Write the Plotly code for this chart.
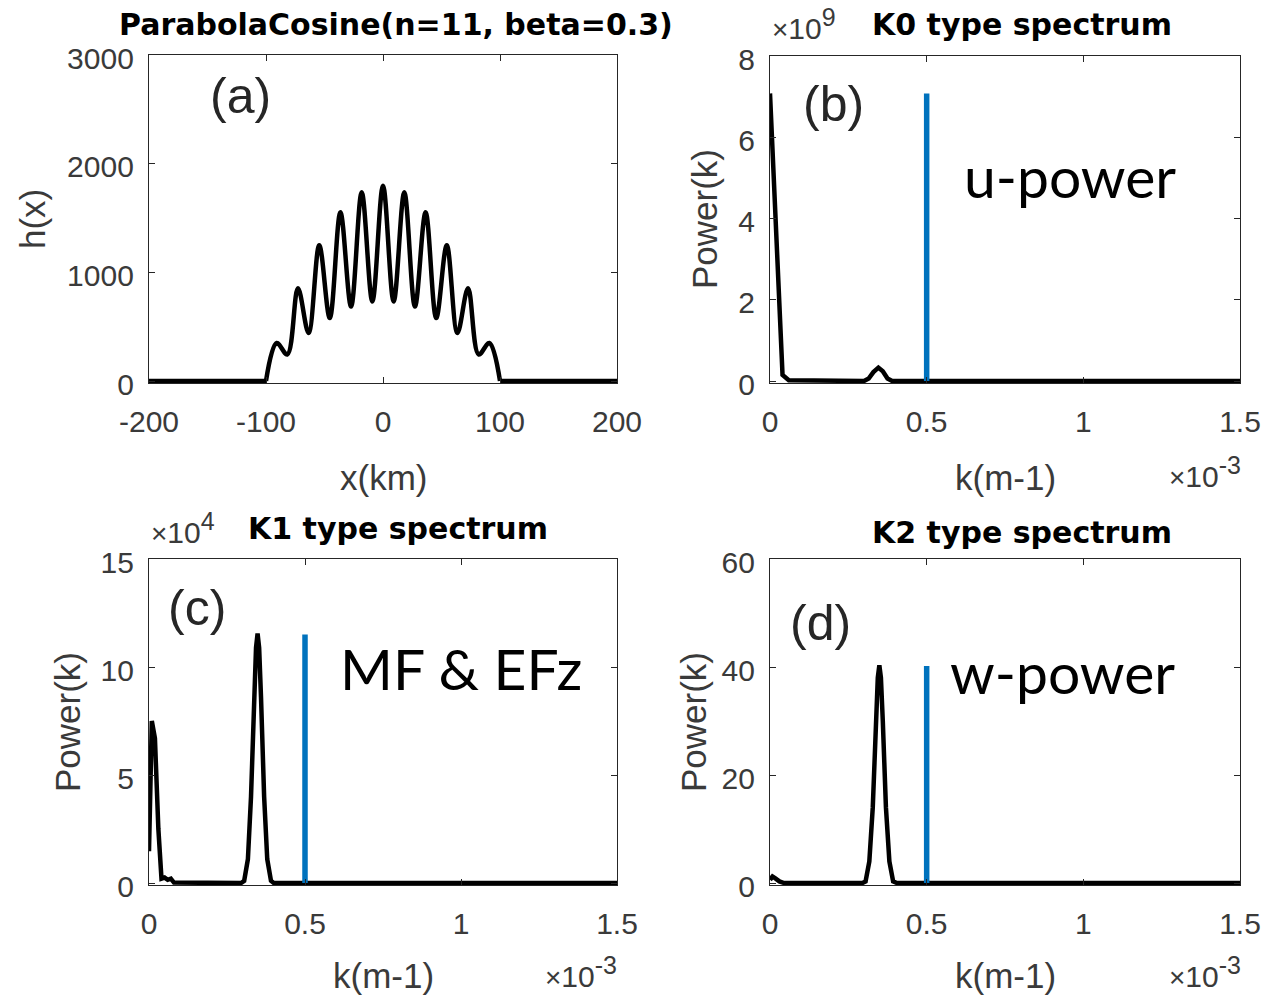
import plotly.graph_objects as go

W, H = 1268, 998

# ---------------- data ----------------
# (a) topography h(x): flat parts and the hump (peaks / troughs)
x_flat = [-200, -100, None, 100, 200]
h_flat = [0, 0, None, 0, 0]
x_km = [-100, -90.9, -81.8, -72.7, -63.6, -54.5, -45.5, -36.4, -27.3, -18.2, -9.1, 0,
        9.1, 18.2, 27.3, 36.4, 45.5, 54.5, 63.6, 72.7, 81.8, 90.9, 100]
h_x = [0, 350, 244, 853, 442, 1249, 579, 1553, 685, 1736, 731, 1797,
       731, 1736, 685, 1553, 579, 1249, 442, 853, 244, 350, 0]

# (b) K0 spectrum (k in 1e-3 m^-1, power in 1e9)
k0 = [0, 0.02, 0.04, 0.06, 0.30, 0.315, 0.33, 0.346, 0.36, 0.375, 0.39, 1.5]
p0 = [7.08, 3.4, 0.15, 0.02, 0.0, 0.06, 0.22, 0.33, 0.24, 0.06, 0.0, 0.0]

# (c) K1 spectrum (power in 1e4)
k1 = [0, 0.009, 0.019, 0.03, 0.04, 0.05, 0.06, 0.07, 0.08, 0.295, 0.305, 0.317, 0.327, 0.337,
      0.343, 0.348, 0.353, 0.359, 0.369, 0.379, 0.391, 0.40, 1.5]
p1 = [1.47, 7.5, 6.7, 2.5, 0.2, 0.25, 0.15, 0.2, 0.02, 0.0, 0.1, 1.1, 4.0, 8.6,
      10.9, 11.55, 10.9, 8.6, 4.0, 1.1, 0.1, 0.0, 0.0]

# (d) K2 spectrum
k2 = [0, 0.008, 0.016, 0.03, 0.045, 0.295, 0.305, 0.317, 0.328, 0.338, 0.344, 0.349, 0.354,
      0.360, 0.370, 0.381, 0.393, 0.405, 1.5]
p2 = [0.6, 1.2, 0.9, 0.3, 0.0, 0.0, 0.3, 4.0, 14.0, 30.0, 38.0, 40.3, 38.0,
      30.0, 14.0, 4.0, 0.3, 0.0, 0.0]

# blue reference lines at k = 0.5e-3
k_ref = 0.5
ref_b = 7.08
ref_c = 11.5
ref_d = 40.2

ticks_a_x = [-200, -100, 0, 100, 200]
ticks_a_x_txt = ["-200", "-100", "0", "100", "200"]
ticks_a_y = [0, 1000, 2000, 3000]
ticks_k = [0, 0.5, 1, 1.5]
ticks_k_txt = ["0", "0.5", "1", "1.5"]
ticks_b_y = [0, 2, 4, 6, 8]
ticks_c_y = [0, 5, 10, 15]
ticks_d_y = [0, 20, 40, 60]

titles = ["ParabolaCosine(n=11, beta=0.3)", "K0 type spectrum", "K1 type spectrum", "K2 type spectrum"]
panel_tags = ["(a)", "(b)", "(c)", "(d)"]
big_labels = ["u-power", "MF &amp; EFz", "w-power"]
exponents = ["9", "4", "-3"]

# ---------------- layout helpers ----------------
def fx(px):
    return px / W

def fy(py):
    return 1 - py / H

BLACK = "black"
BLUE = "#0072BD"
GRAY = "#3a3a3a"
TICKFONT = dict(family="Liberation Sans, Arial", size=30, color=GRAY)
LABFONT = dict(family="Liberation Sans, Arial", size=35, color=GRAY)
TITFONT = dict(family="DejaVu Sans", size=30, color="black", weight="bold")

fig = go.Figure()

LW = 4.5
BW = 5.5
fig.add_trace(go.Scatter(x=x_flat, y=h_flat, mode="lines", line=dict(color=BLACK, width=LW),
                         xaxis="x", yaxis="y", showlegend=False))
fig.add_trace(go.Scatter(x=x_km, y=h_x, mode="lines", line=dict(color=BLACK, width=LW, shape="spline", smoothing=1),
                         xaxis="x", yaxis="y", showlegend=False))

fig.add_trace(go.Scatter(x=k0, y=p0, mode="lines", line=dict(color=BLACK, width=LW), xaxis="x2", yaxis="y2", showlegend=False))
fig.add_trace(go.Scatter(x=[k_ref, k_ref], y=[0, ref_b], mode="lines", line=dict(color=BLUE, width=BW), xaxis="x2", yaxis="y2", showlegend=False))

fig.add_trace(go.Scatter(x=k1, y=p1, mode="lines", line=dict(color=BLACK, width=LW), xaxis="x3", yaxis="y3", showlegend=False))
fig.add_trace(go.Scatter(x=[k_ref, k_ref], y=[0, ref_c], mode="lines", line=dict(color=BLUE, width=BW), xaxis="x3", yaxis="y3", showlegend=False))

fig.add_trace(go.Scatter(x=k2, y=p2, mode="lines", line=dict(color=BLACK, width=LW), xaxis="x4", yaxis="y4", showlegend=False))
fig.add_trace(go.Scatter(x=[k_ref, k_ref], y=[0, ref_d], mode="lines", line=dict(color=BLUE, width=BW), xaxis="x4", yaxis="y4", showlegend=False))

panels = {
    "a": dict(x=(149, 617), y=(55, 383)),
    "b": dict(x=(770, 1240), y=(56, 383)),
    "c": dict(x=(149, 617), y=(559, 885)),
    "d": dict(x=(770, 1240), y=(559, 885)),
}

def axis_common():
    return dict(showline=True, linecolor="#262626", linewidth=1.3, mirror="ticks", ticks="inside",
                ticklen=6, tickwidth=1, tickcolor="#262626", showgrid=False, zeroline=False,
                tickfont=TICKFONT, fixedrange=True, automargin=False)

def yrange(top, py0, py1):
    eps = 2.0 / (py1 - py0) * top
    return [-eps, top]

layout = dict(width=W, height=H, margin=dict(l=0, r=0, t=0, b=0, autoexpand=False), paper_bgcolor="white",
              plot_bgcolor="white", showlegend=False)

specs = [
    ("a", "xaxis", "yaxis", "y", "x", [-200, 200], ticks_a_x, ticks_a_x_txt, 3000, ticks_a_y),
    ("b", "xaxis2", "yaxis2", "y2", "x2", [0, 1.5], ticks_k, ticks_k_txt, 8, ticks_b_y),
    ("c", "xaxis3", "yaxis3", "y3", "x3", [0, 1.5], ticks_k, ticks_k_txt, 15, ticks_c_y),
    ("d", "xaxis4", "yaxis4", "y4", "x4", [0, 1.5], ticks_k, ticks_k_txt, 60, ticks_d_y),
]
for key, xa, ya, yref, xref, xr, xt, xtt, ytop, yt in specs:
    p = panels[key]
    xd = [fx(p["x"][0]), fx(p["x"][1])]
    yd = [fy(p["y"][1]), fy(p["y"][0])]
    xax = axis_common()
    xax.update(domain=xd, anchor=yref, range=xr, tickvals=xt, ticktext=xtt, ticklabelstandoff=12)
    yax = axis_common()
    yax.update(domain=yd, anchor=xref, range=yrange(ytop, p["y"][0], p["y"][1]), tickvals=yt,
               ticklabelstandoff=8, ticklabelshift=3)
    layout[xa] = xax
    layout[ya] = yax

ann = []

def add_text(text, px, py, font, xanchor="center", yanchor="middle", angle=0):
    ann.append(dict(text=text, x=fx(px), y=fy(py), xref="paper", yref="paper", showarrow=False,
                    xanchor=xanchor, yanchor=yanchor, font=font, textangle=angle))

# titles
add_text(titles[0], 396, 25, TITFONT)
add_text(titles[1], 1022, 25, TITFONT)
add_text(titles[2], 398, 528, TITFONT)
add_text(titles[3], 1022, 532, TITFONT)

# panel tags
TAGFONT = dict(family="Liberation Sans, Arial", size=50, color="#262626")
add_text(panel_tags[0], 240, 96, TAGFONT)
add_text(panel_tags[1], 833, 104, TAGFONT)
add_text(panel_tags[2], 197, 608, TAGFONT)
add_text(panel_tags[3], 820, 623, TAGFONT)

# big labels
BIGFONT = dict(family="Lato", size=57, color="black")
add_text(big_labels[0], 962, 176, BIGFONT, xanchor="left")
add_text(big_labels[1], 338, 668, BIGFONT, xanchor="left")
add_text(big_labels[2], 948, 672, BIGFONT, xanchor="left")

# axis labels
add_text("x(km)", 383, 478, LABFONT)
add_text("k(m-1)", 1005, 478, LABFONT)
add_text("k(m-1)", 383, 975, LABFONT)
add_text("k(m-1)", 1005, 975, LABFONT)
add_text("h(x)", 33, 219, LABFONT, angle=-90)
add_text("Power(k)", 705, 219, LABFONT, angle=-90)
add_text("Power(k)", 67, 722, LABFONT, angle=-90)
add_text("Power(k)", 693, 722, LABFONT, angle=-90)

# exponent labels
EXPFONT = dict(family="Liberation Sans, Arial", size=30, color=GRAY)

def exp_text(e):
    return ("<span style='font-size:28px'>×</span>10"
            "<sup><span style='font-size:25px'>" + e + "</span></sup>")

add_text(exp_text(exponents[0]), 770, 47, EXPFONT, xanchor="left", yanchor="bottom")
add_text(exp_text(exponents[1]), 149, 551, EXPFONT, xanchor="left", yanchor="bottom")
add_text(exp_text(exponents[2]), 1243, 495, EXPFONT, xanchor="right", yanchor="bottom")
add_text(exp_text(exponents[2]), 619, 995, EXPFONT, xanchor="right", yanchor="bottom")
add_text(exp_text(exponents[2]), 1243, 995, EXPFONT, xanchor="right", yanchor="bottom")

layout["annotations"] = ann
fig.update_layout(**layout)
fig.write_html("out.html")
